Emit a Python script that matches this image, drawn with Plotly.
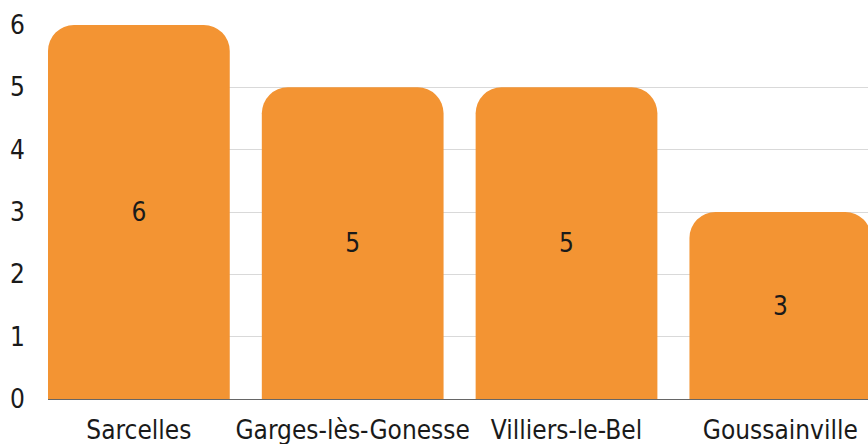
import plotly.graph_objects as go

# data
villes = ["Sarcelles", "Garges-lès-Gonesse", "Villiers-le-Bel", "Goussainville"]
valeurs = [6, 5, 5, 3]
y_ticks = [0, 1, 2, 3, 4, 5, 6]

font_family = "DejaVu Sans Condensed, Liberation Sans Narrow, sans-serif"

fig = go.Figure()
fig.add_trace(go.Bar(
    x=villes,
    y=valeurs,
    text=[str(v) for v in valeurs],
    textposition="inside",
    insidetextanchor="middle",
    textfont=dict(size=26, color="#1a1a1a", family=font_family),
    marker=dict(color="#F39433", line=dict(width=0)),
    width=0.85,
    showlegend=False,
))

fig.update_layout(
    width=868, height=444,
    margin=dict(l=48, r=0, t=25, b=45),
    plot_bgcolor="white",
    paper_bgcolor="white",
    barcornerradius=26,
    font=dict(family=font_family, size=26, color="#1a1a1a"),
    xaxis=dict(
        range=[-0.425, 3.41],
        showgrid=False,
        showline=True, linecolor="#666666", linewidth=1,
        ticks="", ticklabelstandoff=8,
        tickfont=dict(size=26),
    ),
    yaxis=dict(
        range=[0, 6],
        tickvals=y_ticks,
        showgrid=True, gridcolor="#d9d9d9", gridwidth=1,
        zeroline=False,
        showline=False,
        ticks="", ticklabelstandoff=22,
        tickfont=dict(size=26),
    ),
)

fig.write_html("out.html", config={"displayModeBar": False},
               post_script="document.body.style.margin='0';")
